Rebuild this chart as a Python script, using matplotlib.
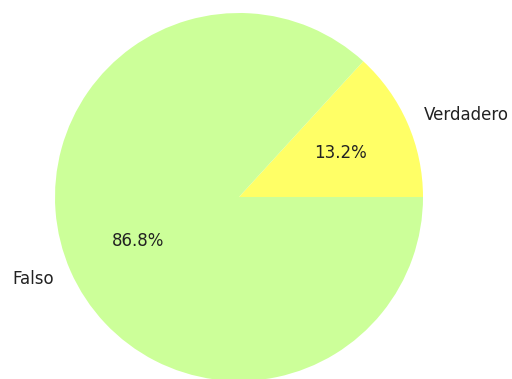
import matplotlib
matplotlib.use("Agg")
import matplotlib.pyplot as plt

labels = ["Verdadero", "Falso"]
values = [13.2, 86.8]
colors = ["#ffff66", "#ccff99"]

W, H = 512, 379
cx, cy, r = 239, 197, 184

fig = plt.figure(figsize=(W / 100, H / 100), dpi=100)
ax = fig.add_axes([(cx - r) / W, (H - cy - r) / H, 2 * r / W, 2 * r / H])
ax.pie(values, labels=labels, colors=colors, autopct="%1.1f%%",
       startangle=0, textprops={"fontsize": 12, "color": "#222222"})
ax.set_xlim(-1, 1)
ax.set_ylim(-1, 1)
ax.set_aspect("auto")
ax.axis("off")

fig.savefig("out.png", dpi=100)
